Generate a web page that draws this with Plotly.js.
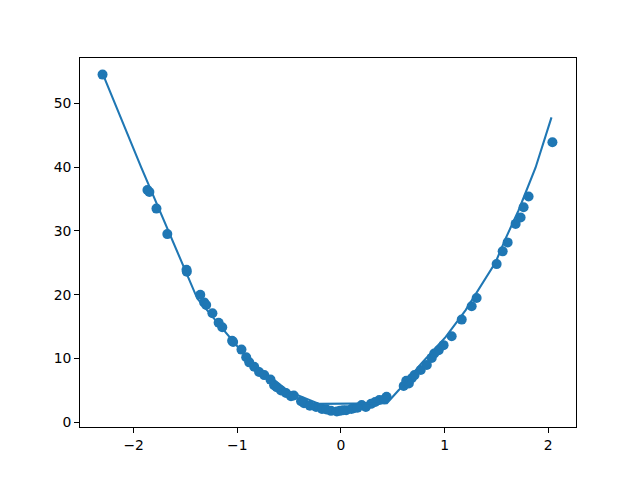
<!DOCTYPE html>
<html>
<head>
<meta charset="utf-8">
<script src="https://cdn.plot.ly/plotly-3.0.1.min.js"></script>
<style>html,body{margin:0;padding:0;background:#fff;}#chart{width:640px;height:480px;}</style>
</head>
<body>
<div id="chart"></div>
<script>
// Scatter data
const pointX = [-2.30, -1.867, -1.848, -1.78, -1.675, -1.49, -1.487, -1.357, -1.32, -1.30, -1.24, -1.18, -1.145,
  -1.05, -1.04, -0.914, -0.885, -0.837, -0.79, -0.74, -0.645, -0.578, -0.53, -0.482, -0.385, -0.356,
  -0.24, -0.183, -0.096, -0.04, 0.05, 0.125, 0.20, 0.29, 0.37, 0.44, 0.605, 0.655, 0.683, 0.77, 0.828,
  0.876, 0.943, 0.99, 1.068, 1.165, 1.261, 1.309, 1.502, 1.56, 1.608, 1.685, 1.733, 1.762, 1.81, 2.04,
  -0.62, -0.455, -0.30, -0.14, -0.01, 0.10, 0.24, 0.33, 0.42, 0.63, 0.71, 0.90, -0.96, -0.68, 0.02, 0.16];
const pointY = [54.5, 36.4, 36.1, 33.5, 29.5, 23.9, 23.6, 20.0, 18.8, 18.4, 17.1, 15.6, 14.9,
  12.8, 12.6, 10.2, 9.4, 8.7, 7.9, 7.4, 5.8, 5.0, 4.6, 4.1, 3.3, 3.0,
  2.4, 2.1, 1.8, 1.7, 1.9, 2.2, 2.7, 2.9, 3.5, 4.0, 5.7, 6.1, 6.9, 8.2, 9.0,
  10.1, 11.3, 12.1, 13.5, 16.1, 18.2, 19.5, 24.8, 26.8, 28.2, 31.1, 32.1, 33.7, 35.4, 43.9,
  5.5, 4.2, 2.6, 2.0, 1.8, 2.1, 2.4, 3.2, 3.6, 6.5, 7.4, 10.8, 11.4, 6.7, 1.9, 2.3];

// Fitted model curve (vertices)
const fitX = [-2.295, -1.928, -1.386, -0.885, -0.50, -0.21, 0.443, 0.558, 0.780, 1.011, 1.203, 1.357, 1.492, 1.588, 1.713, 1.877, 2.031];
const fitY = [54.5, 40.0, 19.4, 9.7, 4.8, 2.9, 3.0, 5.06, 9.3, 13.4, 17.6, 21.5, 25.1, 28.8, 33.2, 39.9, 47.8];

const blue = '#1f77b4';
const tickFont = {family: 'DejaVu Sans, sans-serif', size: 13.9, color: '#000'};

const data = [
  {x: pointX, y: pointY, type: 'scatter', mode: 'markers',
   marker: {color: blue, size: 10}, showlegend: false, hoverinfo: 'none'},
  {x: fitX, y: fitY, type: 'scatter', mode: 'lines',
   line: {color: blue, width: 2.08}, showlegend: false, hoverinfo: 'none'}
];

const axisBase = {
  showgrid: false, zeroline: false, showline: true, mirror: true,
  linecolor: '#000', linewidth: 1, ticks: 'outside', ticklen: 4.9, tickwidth: 1,
  tickcolor: '#000', tickfont: tickFont
};

const layout = {
  width: 640, height: 480,
  margin: {l: 80, r: 64, t: 58, b: 53, pad: 0},
  paper_bgcolor: '#fff', plot_bgcolor: '#fff',
  xaxis: Object.assign({}, axisBase, {range: [-2.5175, 2.2675], tickvals: [-2, -1, 0, 1, 2], ticktext: ['−2', '−1', '0', '1', '2']}),
  yaxis: Object.assign({}, axisBase, {range: [-0.73, 57.1], tickvals: [0, 10, 20, 30, 40, 50]})
};

Plotly.newPlot('chart', data, layout, {staticPlot: true, displayModeBar: false});
</script>
</body>
</html>
